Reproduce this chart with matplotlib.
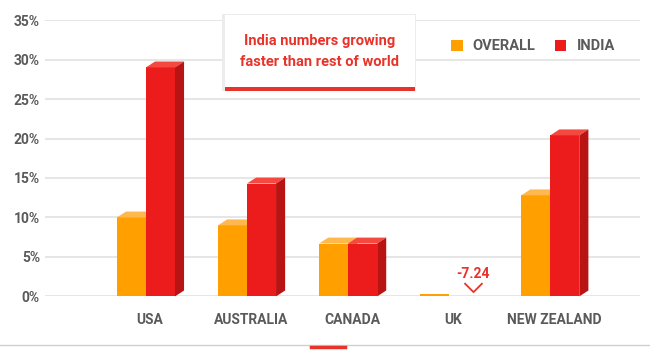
import numpy as np
import matplotlib
matplotlib.use("Agg")
import matplotlib.pyplot as plt
from matplotlib.patches import Polygon, Rectangle
from matplotlib.path import Path

# data
countries = ["USA", "AUSTRALIA", "CANADA", "UK", "NEW ZEALAND"]
overall = [10.0, 9.0, 6.7, 0.3, 12.8]
india = [29.0, 14.3, 6.7, -7.24, 20.4]
yticks = [0, 5, 10, 15, 20, 25, 30, 35]

orange, orange_top = "#FFA000", "#FFB84D"
red, red_top, red_side = "#EC1C1C", "#F5483F", "#B81414"
grey = "#5a5a5a"
note_red = "#E8332A"

plt.rcParams['font.family'] = ['Roboto', 'DejaVu Sans']

fig = plt.figure(figsize=(6.5, 3.55), dpi=100)
ax = fig.add_axes([0.069, 0.165, 0.916, 0.7785])

x = np.arange(len(countries))
w = 0.287
dx, dy = 0.09, 0.75   # fake 3d depth

def bar3d(xc, h, front, top, side):
    if h <= 0:
        return None
    b = ax.bar(xc, h, w, color=front, zorder=3, linewidth=0)
    if h < 1:
        # too small to show the depth faces
        return b
    l, r = xc - w / 2, xc + w / 2
    ax.add_patch(Polygon([(l, h), (l + dx, h + dy), (r + dx, h + dy), (r, h)],
                         closed=True, color=top, zorder=3, lw=0, clip_on=False))
    ax.add_patch(Polygon([(r, 0), (r + dx, dy), (r + dx, h + dy), (r, h)],
                         closed=True, color=side, zorder=3, lw=0, clip_on=False))
    return b

chevron = Path([(-1, 0.6), (0, -0.4), (1, 0.6)],
               [Path.MOVETO, Path.LINETO, Path.LINETO])

h_over = h_ind = None
for i in range(len(countries)):
    b = bar3d(x[i] - w / 2, overall[i], orange, orange_top, "#D98500")
    h_over = h_over or b
for i in range(len(countries)):
    b = bar3d(x[i] + w / 2, india[i], red, red_top, red_side)
    h_ind = h_ind or b
    if india[i] < 0:
        xl = x[i] + w / 2 + 0.095
        ax.text(xl, 1.9, f"{india[i]:.2f}", color=note_red,
                ha="center", va="bottom", fontsize=10, fontweight="bold")
        ax.plot([xl], [1.1], marker=chevron, markersize=13, color=note_red,
                markerfacecolor="none", markeredgewidth=1.3, clip_on=False)

ax.set_xlim(-1.0, 4.89)
ax.set_ylim(0, 35)
ax.set_yticks(yticks)
ax.set_yticklabels([f"{t}%" for t in yticks])
ax.set_xticks(x + 0.04)
ax.set_xticklabels(countries)
ax.tick_params(length=0, colors=grey, labelsize=10)
ax.tick_params(axis="x", pad=12)
for lab in ax.get_xticklabels() + ax.get_yticklabels():
    lab.set_fontweight("bold")
ax.grid(axis="y", color="#e2e2e2", linewidth=1.2, zorder=0)
for s in ax.spines.values():
    s.set_visible(False)

leg = ax.legend([h_over, h_ind], ["OVERALL", "INDIA"], ncol=2, frameon=False,
                loc="center left", bbox_to_anchor=(0.66, 0.905),
                handlelength=0.8, handleheight=0.8, handletextpad=0.7,
                columnspacing=1.3, prop={"weight": "bold", "size": 10.5})
for t in leg.get_texts():
    t.set_color(grey)

# annotation box
fig.patches.append(Rectangle((0.342, 0.745), 0.298, 0.215, transform=fig.transFigure,
                             facecolor="#ececec", edgecolor="none", zorder=4))
fig.patches.append(Rectangle((0.346, 0.752), 0.292, 0.205, transform=fig.transFigure,
                             facecolor="white", edgecolor="none", zorder=5))
fig.patches.append(Rectangle((0.346, 0.745), 0.292, 0.009, transform=fig.transFigure,
                             facecolor=note_red, edgecolor="none", zorder=6))
fig.text(0.492, 0.855, "India numbers growing\nfaster than rest of world",
         color=note_red, ha="center", va="center", fontsize=10.5,
         fontweight="bold", linespacing=1.6, zorder=7)

# bottom page decoration
fig.add_artist(plt.Line2D([0, 1], [0.028, 0.028], color="#cfcfcf", lw=1))
fig.add_artist(plt.Line2D([0.478, 0.531], [0.022, 0.022], color=note_red, lw=2.5))

fig.savefig("out.png", dpi=100)
